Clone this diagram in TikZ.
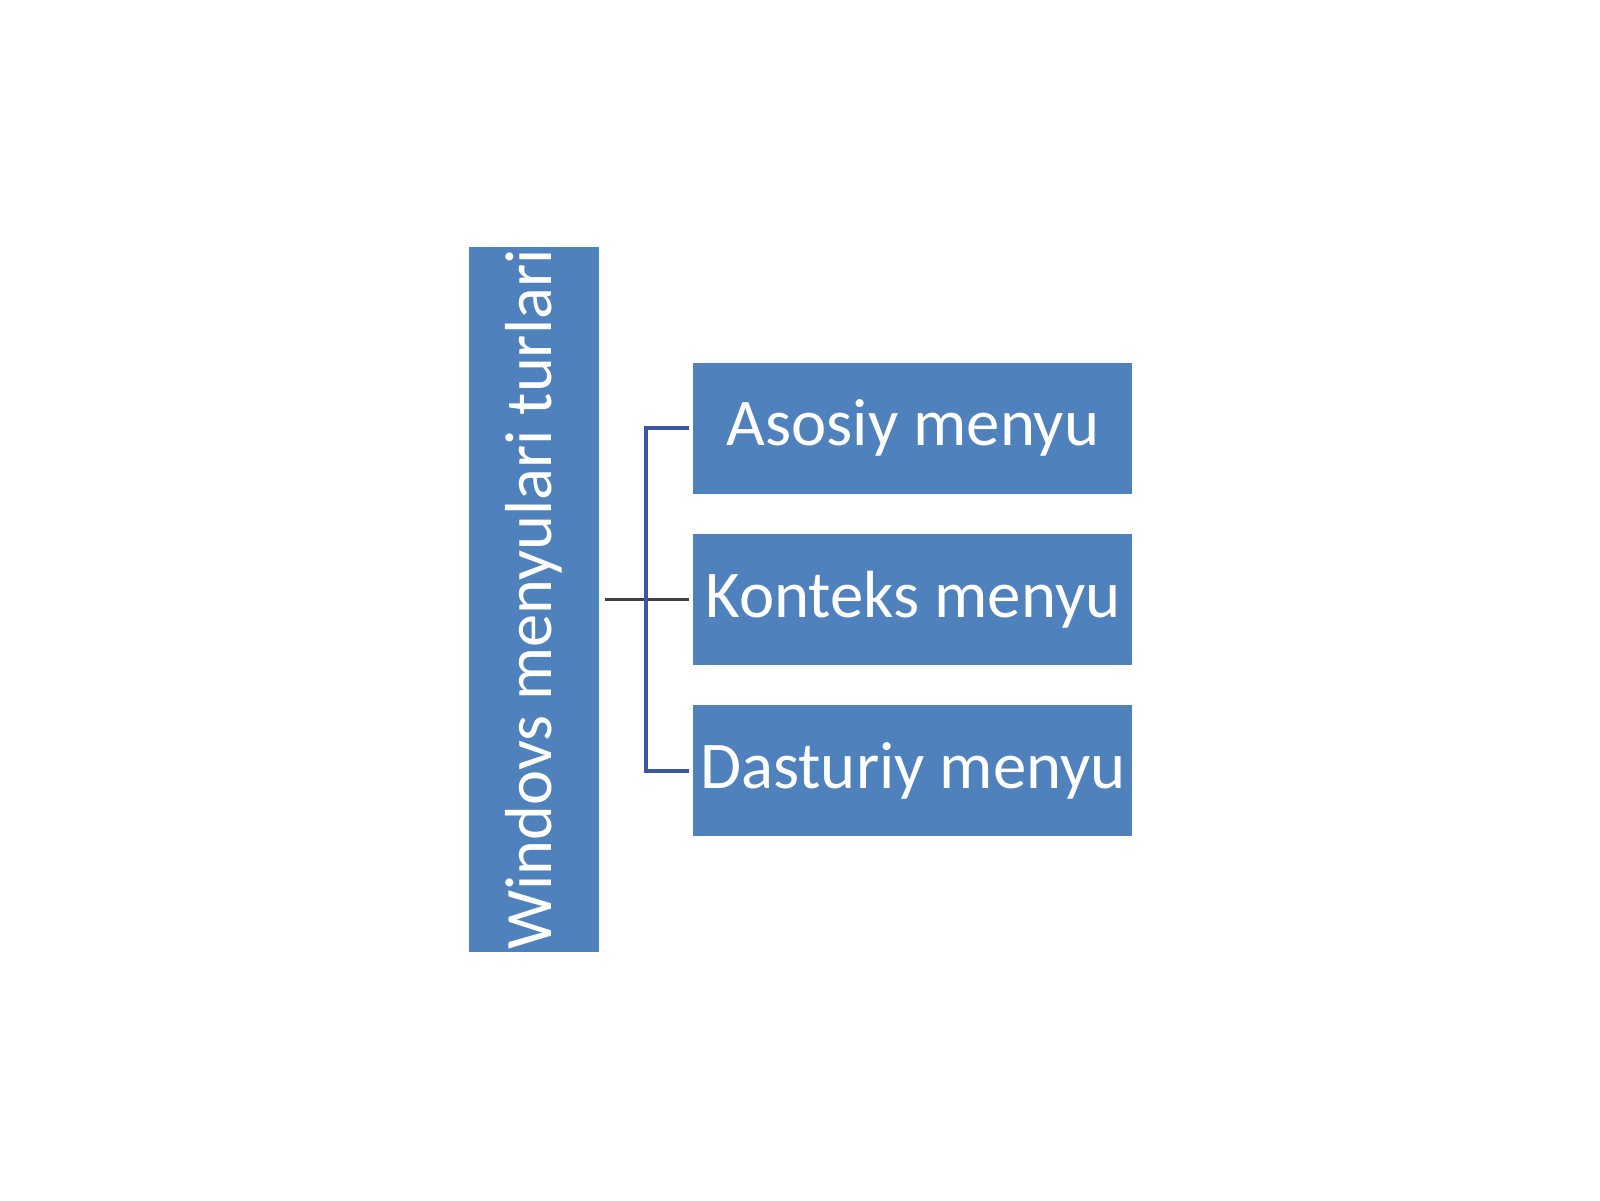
\documentclass[tikz,border=0pt]{standalone}
\usepackage{fontspec}
\setmainfont{Carlito}
\usetikzlibrary{positioning,calc}
\definecolor{boxblue}{HTML}{4F81BD}
\definecolor{linkblue}{HTML}{3B55A3}
\definecolor{linkgrey}{HTML}{3F3F46}
\begin{document}
\begin{tikzpicture}
\tikzstyle{menubox} = [fill=boxblue, text=white, inner sep=0pt, minimum width=4.39cm, minimum height=1.31cm, font=\fontsize{19}{23}\selectfont]
\tikzstyle{link} = [draw=linkblue, line width=1.1pt]
\useasboundingbox (0,0) rectangle (16,12);
\node[menubox, rotate=90, minimum width=7.05cm, minimum height=1.30cm, font=\fontsize{18.9}{23}\selectfont](main) at (5.34,6.005){Windovs menyulari turlari};
\node[menubox, right=0.93cm of main.south](konteks){Konteks menyu};
\node[menubox, above=0.39cm of konteks](asosiy){Asosiy menyu};
\node[menubox, below=0.39cm of konteks](dasturiy){Dasturiy menyu};
\coordinate(fork) at ($(main.south)!0.5!(konteks.west)$);
\draw[draw=linkgrey, line width=1.1pt]([xshift=0.05cm]main.south) -- ([xshift=-0.04cm]konteks.west);
\draw[link]([xshift=-0.04cm]asosiy.west) -| (fork) |- ([xshift=-0.04cm]dasturiy.west);
\end{tikzpicture}
\end{document}
